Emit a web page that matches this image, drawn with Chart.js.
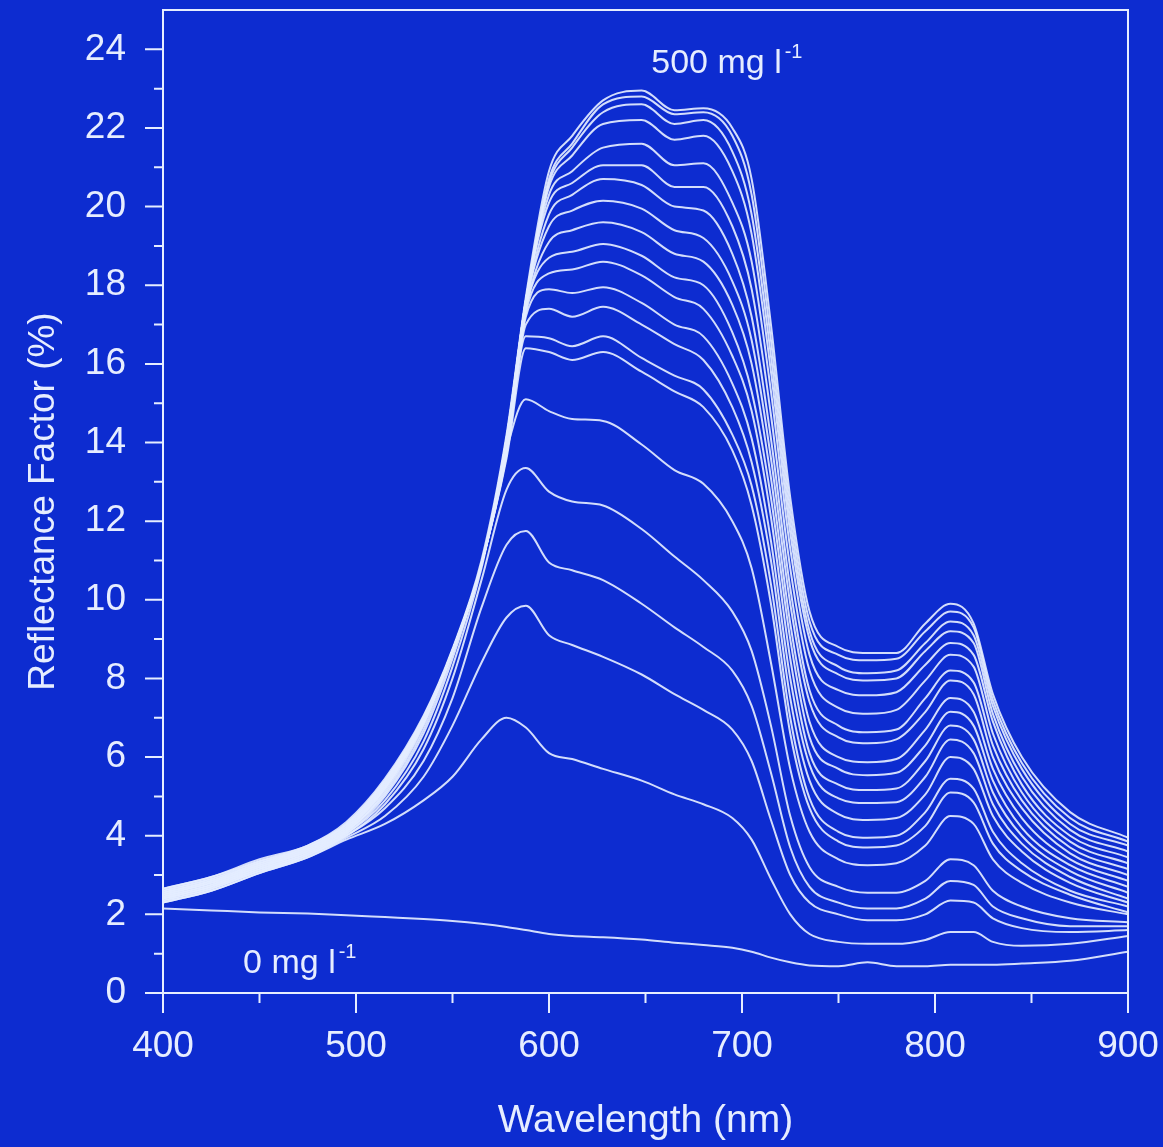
<!DOCTYPE html>
<html>
<head>
<meta charset="utf-8">
<title>Reflectance Factor vs Wavelength</title>
<script src="https://cdn.jsdelivr.net/npm/chart.js@4.4.1/dist/chart.umd.min.js"></script>
<style>
  html, body { margin: 0; padding: 0; background: #0d2cd0; }
  canvas { display: block; }
</style>
</head>
<body>
<canvas id="chart" width="1163" height="1147"></canvas>
<script>
'use strict';

const wavelengths = [400, 425, 450, 475, 495, 515, 535, 550, 565, 578, 588, 600, 612, 628, 648,
    665, 680, 695, 705, 715, 725, 735, 750, 765, 780, 795, 808, 820, 830, 845, 870, 900];

const xTickLabels = [400, 500, 600, 700, 800, 900];
const yTickLabels = [0, 2, 4, 6, 8, 10, 12, 14, 16, 18, 20, 22, 24];

// reflectance factor (%) - clear water, 0 mg l-1
const conc00 = [2.15, 2.1, 2.05, 2.02, 1.98, 1.93, 1.88, 1.83, 1.76, 1.68, 1.6, 1.5, 1.45, 1.42, 1.36, 1.28, 1.22, 1.15, 1.05, 0.9, 0.78, 0.7, 0.68, 0.78, 0.68, 0.68, 0.72, 0.72, 0.72, 0.75, 0.82, 1.05];
// increasing sediment loads, lowest first
const conc01 = [2.3, 2.6, 3.05, 3.45, 3.9, 4.3, 4.9, 5.5, 6.45, 7.0, 6.75, 6.1, 5.95, 5.7, 5.4, 5.05, 4.8, 4.45, 3.9, 2.9, 2.0, 1.5, 1.3, 1.25, 1.25, 1.35, 1.55, 1.55, 1.3, 1.2, 1.25, 1.45];
const conc02 = [2.3, 2.6, 3.05, 3.45, 3.95, 4.5, 5.5, 6.8, 8.4, 9.55, 9.85, 9.1, 8.85, 8.55, 8.1, 7.6, 7.2, 6.7, 5.9, 4.4, 3.0, 2.3, 2.0, 1.85, 1.85, 2.0, 2.35, 2.3, 1.9, 1.65, 1.55, 1.6];
const conc03 = [2.35, 2.65, 3.1, 3.5, 4.0, 4.7, 5.9, 7.5, 9.8, 11.4, 11.75, 10.95, 10.75, 10.5, 9.9, 9.3, 8.8, 8.2, 7.3, 5.6, 3.7, 2.7, 2.3, 2.15, 2.15, 2.4, 2.85, 2.75, 2.2, 1.9, 1.7, 1.7];
const conc04 = [2.35, 2.65, 3.1, 3.5, 4.0, 4.8, 6.2, 8.0, 10.5, 12.8, 13.35, 12.75, 12.5, 12.4, 11.8, 11.1, 10.5, 9.7, 8.7, 6.8, 4.5, 3.2, 2.7, 2.55, 2.55, 2.85, 3.4, 3.25, 2.6, 2.2, 1.9, 1.8];
const conc05 = [2.4, 2.7, 3.1, 3.5, 4.05, 4.9, 6.4, 8.3, 10.8, 13.8, 15.1, 14.8, 14.6, 14.55, 13.95, 13.3, 12.95, 12.0, 10.8, 8.4, 5.7, 4.1, 3.4, 3.25, 3.3, 3.75, 4.5, 4.3, 3.4, 2.8, 2.3, 2.0];
const conc06 = [2.4, 2.7, 3.15, 3.55, 4.05, 5.0, 6.6, 8.5, 10.9, 13.6, 16.4, 16.3, 16.1, 16.3, 15.8, 15.3, 14.9, 13.8, 12.4, 9.9, 6.6, 4.7, 3.85, 3.7, 3.75, 4.25, 5.1, 4.85, 3.8, 3.1, 2.5, 2.05];
const conc07 = [2.4, 2.7, 3.15, 3.55, 4.1, 5.05, 6.7, 8.6, 10.9, 13.7, 16.7, 16.65, 16.45, 16.7, 16.15, 15.7, 15.35, 14.2, 12.9, 10.4, 7.0, 4.95, 4.1, 3.95, 4.0, 4.6, 5.45, 5.2, 4.1, 3.3, 2.6, 2.2];
const conc08 = [2.45, 2.75, 3.15, 3.55, 4.1, 5.1, 6.8, 8.7, 10.9, 13.7, 17.0, 17.4, 17.2, 17.45, 17.0, 16.5, 16.1, 14.9, 13.5, 11.0, 7.5, 5.4, 4.55, 4.4, 4.45, 5.05, 6.0, 5.7, 4.5, 3.6, 2.8, 2.3];
const conc09 = [2.45, 2.75, 3.2, 3.6, 4.1, 5.15, 6.85, 8.7, 10.9, 13.8, 17.2, 17.9, 17.8, 17.95, 17.55, 17.0, 16.7, 15.5, 14.1, 11.5, 8.0, 5.8, 4.95, 4.83, 4.85, 5.5, 6.45, 6.1, 4.8, 3.8, 2.95, 2.4];
const conc10 = [2.45, 2.75, 3.2, 3.6, 4.15, 5.2, 6.9, 8.7, 10.9, 13.8, 17.3, 18.3, 18.4, 18.6, 18.25, 17.7, 17.4, 16.2, 14.8, 12.1, 8.5, 6.1, 5.3, 5.16, 5.2, 5.9, 6.8, 6.45, 5.1, 4.0, 3.1, 2.55];
const conc11 = [2.5, 2.8, 3.2, 3.6, 4.15, 5.2, 6.9, 8.7, 10.9, 13.9, 17.4, 18.7, 18.85, 19.05, 18.75, 18.2, 18.0, 16.8, 15.3, 12.6, 9.0, 6.5, 5.7, 5.54, 5.6, 6.3, 7.15, 6.8, 5.4, 4.2, 3.25, 2.7];
const conc12 = [2.5, 2.8, 3.25, 3.6, 4.15, 5.25, 6.9, 8.7, 10.9, 13.9, 17.4, 19.1, 19.4, 19.6, 19.35, 18.8, 18.6, 17.5, 16.0, 13.1, 9.4, 6.9, 6.0, 5.87, 5.95, 6.7, 7.5, 7.15, 5.7, 4.45, 3.4, 2.85];
const conc13 = [2.5, 2.8, 3.25, 3.65, 4.2, 5.25, 6.95, 8.7, 10.9, 13.9, 17.5, 19.5, 19.9, 20.15, 19.95, 19.4, 19.2, 18.1, 16.6, 13.6, 9.9, 7.4, 6.5, 6.35, 6.45, 7.15, 7.95, 7.6, 6.0, 4.7, 3.55, 3.0];
const conc14 = [2.55, 2.85, 3.25, 3.65, 4.2, 5.3, 6.95, 8.7, 10.9, 14.0, 17.5, 19.8, 20.3, 20.7, 20.55, 20.0, 19.9, 18.8, 17.2, 14.1, 10.3, 7.7, 6.8, 6.63, 6.7, 7.5, 8.2, 7.9, 6.3, 4.9, 3.7, 3.15];
const conc15 = [2.55, 2.85, 3.3, 3.65, 4.2, 5.3, 7.0, 8.7, 10.9, 14.0, 17.6, 20.1, 20.6, 21.05, 21.05, 20.5, 20.5, 19.5, 17.9, 14.7, 10.8, 8.2, 7.25, 7.1, 7.2, 7.95, 8.6, 8.3, 6.6, 5.1, 3.85, 3.3];
const conc16 = [2.55, 2.85, 3.3, 3.7, 4.25, 5.35, 7.0, 8.7, 10.9, 14.0, 17.6, 20.3, 20.9, 21.5, 21.6, 21.05, 21.1, 20.1, 18.6, 15.3, 11.3, 8.6, 7.7, 7.57, 7.65, 8.35, 8.9, 8.6, 6.9, 5.3, 4.0, 3.45];
const conc17 = [2.6, 2.9, 3.3, 3.7, 4.25, 5.35, 7.0, 8.7, 10.9, 14.1, 17.6, 20.5, 21.3, 22.1, 22.2, 21.7, 21.8, 20.9, 19.3, 15.8, 11.7, 9.0, 8.1, 7.95, 8.0, 8.7, 9.2, 8.9, 7.1, 5.5, 4.15, 3.6];
const conc18 = [2.6, 2.9, 3.35, 3.7, 4.3, 5.4, 7.0, 8.7, 10.9, 14.1, 17.6, 20.6, 21.5, 22.4, 22.6, 22.1, 22.2, 21.4, 19.8, 16.2, 12.0, 9.2, 8.3, 8.13, 8.2, 8.9, 9.45, 9.1, 7.3, 5.7, 4.3, 3.75];
const conc19 = [2.65, 2.95, 3.35, 3.75, 4.3, 5.4, 7.0, 8.7, 10.9, 14.1, 17.6, 20.7, 21.6, 22.6, 22.8, 22.35, 22.4, 21.8, 20.3, 16.6, 12.3, 9.45, 8.6, 8.46, 8.5, 9.2, 9.7, 9.3, 7.45, 5.85, 4.45, 3.85];
// 500 mg l-1
const conc20 = [2.65, 2.95, 3.4, 3.75, 4.35, 5.45, 7.05, 8.75, 11.0, 14.2, 17.7, 20.9, 21.8, 22.7, 22.95, 22.45, 22.5, 22.0, 20.7, 17.0, 12.6, 9.7, 8.8, 8.65, 8.65, 9.4, 9.9, 9.4, 7.6, 6.0, 4.6, 3.95];

const spectra = [conc00, conc01, conc02, conc03, conc04, conc05, conc06, conc07, conc08, conc09, conc10,
    conc11, conc12, conc13, conc14, conc15, conc16, conc17, conc18, conc19, conc20];

const BG = '#0d2cd0';
const INK = '#e6edff';
const FONT = "'Liberation Sans', Arial, sans-serif";

// blue slide background
const backdrop = {
    id: 'backdrop',
    beforeDraw(chart) {
        const ctx = chart.ctx;
        ctx.save();
        ctx.fillStyle = BG;
        ctx.fillRect(0, 0, chart.width, chart.height);
        ctx.restore();
    }
};

// box frame plus major / minor tick marks drawn outward
const frameTicks = {
    id: 'frameTicks',
    afterDraw(chart) {
        const { ctx, chartArea: a, scales: { x, y } } = chart;
        ctx.save();
        ctx.strokeStyle = INK;
        ctx.lineWidth = 2;
        ctx.strokeRect(a.left, a.top, a.right - a.left, a.bottom - a.top);
        ctx.beginPath();
        for (let v = 0; v <= 24; v++) {
            const py = y.getPixelForValue(v);
            const len = v % 2 === 0 ? 18 : 9;
            ctx.moveTo(a.left, py);
            ctx.lineTo(a.left - len, py);
        }
        for (let w = 400; w <= 900; w += 50) {
            const px = x.getPixelForValue(w);
            const len = w % 100 === 0 ? 20 : 10;
            ctx.moveTo(px, a.bottom);
            ctx.lineTo(px, a.bottom + len);
        }
        ctx.stroke();
        ctx.restore();
    }
};

// the two concentration labels, placed in data coordinates
const concLabels = {
    id: 'concLabels',
    afterDatasetsDraw(chart) {
        const { ctx, scales: { x, y } } = chart;
        const notes = [
            { text: '500 mg l', at: [653, 23.4] },
            { text: '0 mg l', at: [441.5, 0.5] }
        ];
        ctx.save();
        ctx.fillStyle = INK;
        ctx.textBaseline = 'alphabetic';
        ctx.textAlign = 'left';
        notes.forEach(n => {
            const px = x.getPixelForValue(n.at[0]);
            const py = y.getPixelForValue(n.at[1]);
            ctx.font = '34px ' + FONT;
            ctx.fillText(n.text, px, py);
            const w = ctx.measureText(n.text).width;
            ctx.font = '20px ' + FONT;
            ctx.fillText('-1', px + w + 3, py - 15);
        });
        ctx.restore();
    }
};

// keep the plot box fixed: no extra room for overhanging labels
function noOverhang(scale) {
    scale.paddingLeft = 0;
    scale.paddingRight = 0;
    scale.paddingTop = 0;
    scale.paddingBottom = 0;
}

function renderChart() {
    const datasets = spectra.map((vals, i) => ({
        label: i === 0 ? '0 mg l-1' : (i === spectra.length - 1 ? '500 mg l-1' : 'sample ' + i),
        data: wavelengths.map((w, j) => ({ x: w, y: vals[j] })),
        borderColor: 'rgba(228, 237, 255, 0.92)',
        borderWidth: 2,
        pointRadius: 0,
        fill: false,
        cubicInterpolationMode: 'monotone'
    }));

    const config = {
        type: 'line',
        data: { datasets: datasets },
        options: {
            responsive: false,
            animation: false,
            devicePixelRatio: 1,
            layout: { padding: { top: 10, right: 35, left: 0, bottom: 0 } },
            plugins: {
                legend: { display: false },
                tooltip: { enabled: false }
            },
            scales: {
                x: {
                    type: 'linear',
                    min: 400,
                    max: 900,
                    afterFit(scale) { scale.height = 154; noOverhang(scale); },
                    grid: { display: false, drawTicks: false },
                    border: { display: false },
                    ticks: {
                        stepSize: 100,
                        padding: 32,
                        color: INK,
                        font: { family: FONT, size: 37 },
                        maxRotation: 0,
                        autoSkip: false,
                        callback: v => xTickLabels.includes(v) ? String(v) : ''
                    },
                    title: {
                        display: true,
                        text: 'Wavelength (nm)',
                        color: INK,
                        font: { family: FONT, size: 39 },
                        padding: { top: 0, bottom: 2 }
                    }
                },
                y: {
                    min: 0,
                    max: 25,
                    afterFit(scale) { scale.width = 163; noOverhang(scale); },
                    grid: { display: false, drawTicks: false },
                    border: { display: false },
                    ticks: {
                        stepSize: 1,
                        maxTicksLimit: 40,
                        autoSkip: false,
                        padding: 37,
                        color: INK,
                        font: { family: FONT, size: 37 },
                        callback: v => yTickLabels.includes(v) ? String(v) : ''
                    },
                    title: {
                        display: true,
                        text: 'Reflectance Factor (%)',
                        color: INK,
                        font: { family: FONT, size: 37 },
                        padding: { top: 22, bottom: 0 }
                    }
                }
            }
        },
        plugins: [backdrop, frameTicks, concLabels]
    };

    const canvasElem = document.getElementById('chart');
    if (canvasElem) {
        new Chart(canvasElem, config);
    }
}

document.addEventListener('DOMContentLoaded', renderChart);
</script>
</body>
</html>
